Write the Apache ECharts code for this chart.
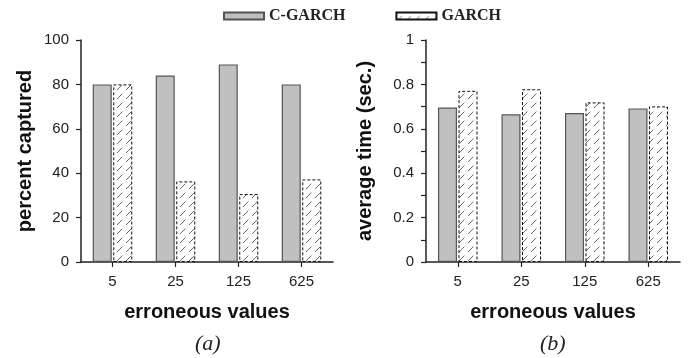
<!DOCTYPE html>
<html>
<head>
<meta charset="utf-8">
<script src="https://cdn.jsdelivr.net/npm/echarts@6/dist/echarts.min.js"></script>
<style>
html,body{margin:0;padding:0;background:#fff;}
#c{width:689px;height:358px;}
</style>
</head>
<body>
<div id="c"></div>
<script>
const categories = ['5', '25', '125', '625'];
const seriesNames = ['C-GARCH', 'GARCH'];
const capturedCGarch = [80, 84, 89, 80];
const capturedGarch = [80, 36.3, 30.6, 37.2];
const timeCGarch = [0.696, 0.665, 0.671, 0.692];
const timeGarch = [0.771, 0.778, 0.719, 0.701];
const leftTicks = [0, 20, 40, 60, 80, 100];
const rightTicks = [0, 0.2, 0.4, 0.6, 0.8, 1];
const panelLabels = ['(a)', '(b)'];

// hatch pattern
const T = 9;
const tile = document.createElement('canvas');
tile.width = T; tile.height = T;
const ctx = tile.getContext('2d');
ctx.fillStyle = '#fff';
ctx.fillRect(0, 0, T, T);
ctx.strokeStyle = '#444';
ctx.lineWidth = 0.8;
const diag = Math.sqrt(2) * T;
ctx.setLineDash([diag * 0.6, diag * 0.4]);
ctx.beginPath();
ctx.moveTo(0, T); ctx.lineTo(T, 0);
ctx.stroke();
const hatch = { image: tile, repeat: 'repeat' };

const chart = echarts.init(document.getElementById('c'));
const sans = "'Liberation Sans', Arial, sans-serif";
const serif = "'Liberation Serif', 'Times New Roman', serif";
const axisLine = { show: true, lineStyle: { color: '#222', width: 1.5 } };

function xAx(gi) {
  return {
    type: 'category', gridIndex: gi, data: categories, boundaryGap: true,
    axisLine: axisLine,
    axisTick: { show: true, alignWithLabel: true, length: 5, lineStyle: { color: '#222', width: 1.2 } },
    axisLabel: { fontFamily: sans, fontSize: 15, color: '#222', margin: 12 },
    name: 'erroneous values', nameLocation: 'middle', nameGap: 40,
    nameTextStyle: { fontFamily: sans, fontSize: 20, fontWeight: 'bold', color: '#111' },
    splitLine: { show: false }
  };
}
function yAx(gi, max, interval, name, gap, minor) {
  return {
    type: 'value', gridIndex: gi, min: 0, max: max, interval: interval,
    axisLine: axisLine,
    axisTick: { show: true, length: 5, lineStyle: { color: '#222', width: 1.2 } },
    minorTick: { show: minor, splitNumber: 2, length: 5, lineStyle: { color: '#222', width: 1.2 } },
    axisLabel: { fontFamily: sans, fontSize: 15, color: '#222', margin: 12 },
    splitLine: { show: false },
    name: name, nameLocation: 'middle', nameGap: gap,
    nameTextStyle: { fontFamily: sans, fontSize: 20, fontWeight: 'bold', color: '#111' }
  };
}
const solidStyle = { color: '#c0c0c0', borderColor: '#555', borderWidth: 1.2 };
const hatchStyle = { color: hatch, borderColor: '#111', borderWidth: 1, borderType: [3, 2] };

chart.setOption({
  animation: false,
  backgroundColor: '#fff',
  legend: {
    data: seriesNames, left: 218, top: 3, icon: 'rect', itemWidth: 40, itemHeight: 7, itemGap: 50,
    textStyle: { fontFamily: serif, fontSize: 16, fontWeight: 'bold', color: '#222' },
    selectedMode: false
  },
  grid: [
    { left: 81, top: 40, width: 252, height: 222 },
    { left: 426, top: 40, width: 254, height: 222 }
  ],
  xAxis: [xAx(0), xAx(1)],
  yAxis: [
    yAx(0, leftTicks[leftTicks.length - 1], leftTicks[1] - leftTicks[0], 'percent captured', 46, false),
    yAx(1, rightTicks[rightTicks.length - 1], rightTicks[1] - rightTicks[0], 'average time (sec.)', 51, true)
  ],
  series: [
    { name: seriesNames[0], type: 'bar', xAxisIndex: 0, yAxisIndex: 0, data: capturedCGarch, barWidth: 19, barGap: '8%', itemStyle: solidStyle },
    { name: seriesNames[1], type: 'bar', xAxisIndex: 0, yAxisIndex: 0, data: capturedGarch, barWidth: 19, barGap: '8%', itemStyle: hatchStyle },
    { name: seriesNames[0], type: 'bar', xAxisIndex: 1, yAxisIndex: 1, data: timeCGarch, barWidth: 19, barGap: '8%', itemStyle: solidStyle },
    { name: seriesNames[1], type: 'bar', xAxisIndex: 1, yAxisIndex: 1, data: timeGarch, barWidth: 19, barGap: '8%', itemStyle: hatchStyle }
  ],
  graphic: [
    { type: 'text', left: 207 - 12, top: 333, style: { text: panelLabels[0], font: "italic 22px 'Liberation Serif', serif", fill: '#222' } },
    { type: 'text', left: 552 - 12, top: 333, style: { text: panelLabels[1], font: "italic 22px 'Liberation Serif', serif", fill: '#222' } }
  ]
});
</script>
</body>
</html>
